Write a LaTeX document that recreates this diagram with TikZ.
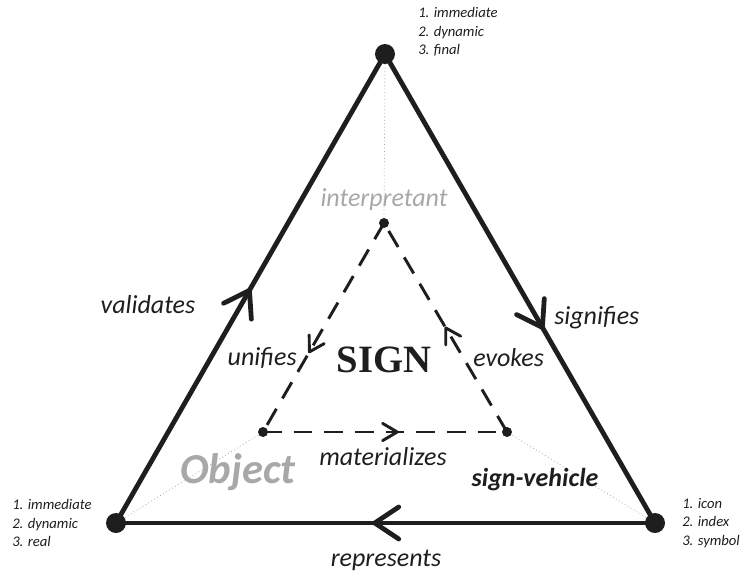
\documentclass[tikz,border=0pt]{standalone}
\usepackage{fontspec}
\setmainfont{Carlito}
\newfontfamily\signfont{Liberation Serif}
\usetikzlibrary{decorations.markings}
\definecolor{ink}{HTML}{1E1E1E}
\definecolor{lightink}{HTML}{A8A8A8}
\tikzset{
  outeredge/.style={line width=3.6pt, draw=ink, line cap=round},
  inneredge/.style={line width=2.2pt, draw=ink, dash pattern=on 14pt off 9pt},
  outerarrow/.style={decoration={markings, mark=at position #1 with {\draw[solid, line width=3.6pt, line cap=round, line join=round, draw=ink] (-18pt,12pt) -- (0pt,0pt) -- (-18pt,-12pt);}}, postaction=decorate},
  innerarrow/.style={decoration={markings, mark=at position #1 with {\draw[solid, line width=2.2pt, line cap=round, line join=round, draw=ink] (-11pt,6.5pt) -- (0pt,0pt) -- (-11pt,-6.5pt);}}, postaction=decorate},
  bigdot/.style={circle, fill=ink, inner sep=0pt, minimum size=15pt},
  smalldot/.style={circle, fill=ink, inner sep=0pt, minimum size=7.5pt},
  guide/.style={draw=lightink, line width=0.6pt, dotted},
  lbl/.style={font=\fontsize{19.5}{22}\selectfont\itshape, text=ink, inner sep=0pt},
  small/.style={font=\fontsize{11}{13.8}\selectfont\itshape, text=ink, align=left, inner sep=0pt, anchor=west},
}
\begin{document}
\begin{tikzpicture}[x=0.75pt,y=-0.75pt]
\useasboundingbox (0,0) rectangle (740,576);
% vertices
\coordinate (T) at (385,54);
\coordinate (BL) at (116,523);
\coordinate (BR) at (655,523);
\coordinate (t) at (384,223);
\coordinate (l) at (263,432);
\coordinate (r) at (507,432);
% dotted guides
\draw[guide] (T) -- (t);
\draw[guide] (BL) -- (l);
\draw[guide] (BR) -- (r);
% outer triangle
\draw[outeredge, outerarrow=0.496] (BL) -- (T);
\draw[outeredge, outerarrow=0.583] (T) -- (BR);
\draw[outeredge, outerarrow=0.52] (BR) -- (BL);
% inner triangle
\draw[inneredge, innerarrow=0.617] (t) -- (l);
\draw[inneredge, innerarrow=0.55] (l) -- (r);
\draw[inneredge, innerarrow=0.498] (r) -- (t);
% dots
\node[bigdot] (dT) at (T) {};
\node[bigdot] (dBL) at (BL) {};
\node[bigdot] (dBR) at (BR) {};
\node[smalldot] (dt) at (t) {};
\node[smalldot] (dl) at (l) {};
\node[smalldot] (dr) at (r) {};
% labels
\node[lbl, text=lightink] (interp) at (384,200) {interpretant};
\node[lbl] (valid) at (148,305) {validates};
\node[lbl, anchor=west] (signif) at (554,318) {signifies};
\node[lbl, anchor=east] (unif) at (297,358) {unifies};
\node[lbl, anchor=west] (evok) at (473,358) {evokes};
\node[font=\fontsize{29}{32}\selectfont\signfont\bfseries, text=ink, inner sep=0pt] (sign) at (384,360) {SIGN};
\node[lbl] (mater) at (383,457) {materializes};
\node[font=\fontsize{32}{36}\selectfont\bfseries\itshape, text=lightink, inner sep=0pt] (obj) at (238,472) {Object};
\node[lbl, font=\fontsize{19.5}{22}\selectfont\bfseries\itshape] (sv) at (535,480) {sign-vehicle};
\node[lbl] (repr) at (386,560) {represents};
% small lists
\node[small] (lT) at (418,32) {1. immediate\\2. dynamic\\3. final};
\node[small] (lBL) at (12,523) {1. immediate\\2. dynamic\\3. real};
\node[small] (lBR) at (682,523) {1. icon\\2. index\\3. symbol};
\end{tikzpicture}
\end{document}
